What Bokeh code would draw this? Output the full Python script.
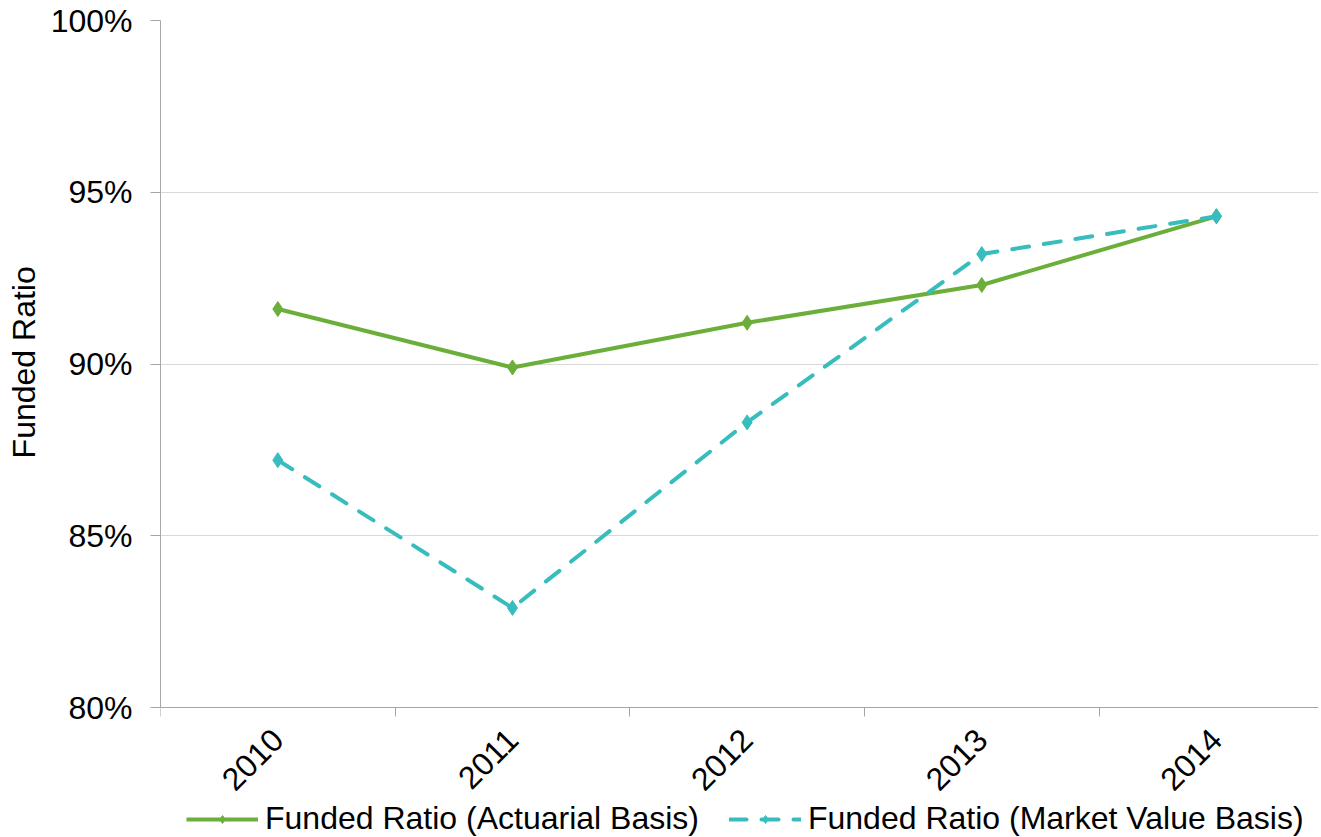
from bokeh.plotting import figure
from bokeh.models import Range1d, FixedTicker, PrintfTickFormatter, Legend, LegendItem
from bokeh.embed import file_html
from bokeh.resources import INLINE
import math

# Funded ratio by plan year (percent)
years = [2010, 2011, 2012, 2013, 2014]
actuarial = [91.6, 89.9, 91.2, 92.3, 94.3]
market_value = [87.2, 82.9, 88.3, 93.2, 94.3]
y_ticks = [80, 85, 90, 95, 100]
y_title = "Funded Ratio"

GREEN = "#6BAE3A"
TEAL = "#37BDBD"
AXIS_GRAY = "#A6A6A6"
FONT = "Liberation Sans"
FS = "32px"

# The frame runs to the bottom of the canvas; the value axis spans 80-100 %
# over its upper 687 px, leaving room below for year labels and legend.
W, H, TOP, LEFT, RIGHT = 1321, 837, 20, 160, 3
AXIS_PX = 687
y_lo, y_hi = y_ticks[0], y_ticks[-1]
y_start = y_lo - (y_hi - y_lo) * (H - TOP - AXIS_PX) / AXIS_PX

p = figure(
    width=W, height=H,
    output_backend="svg", toolbar_location=None,
    x_range=Range1d(2009.5, 2014.435), y_range=Range1d(y_start, y_hi),
    min_border_left=LEFT, min_border_top=TOP, min_border_right=RIGHT, min_border_bottom=0,
)
p.outline_line_color = None
p.background_fill_color = "white"
p.border_fill_color = "white"

# Category axis pinned at 80 %; year labels centred, ticks on category edges
p.xaxis.fixed_location = y_lo
p.xaxis.ticker = FixedTicker(ticks=years, minor_ticks=[y - 0.5 for y in years])
p.xaxis.major_tick_out = 0
p.xaxis.major_tick_in = 0
p.xaxis.minor_tick_out = 9
p.xaxis.minor_tick_in = 0
p.xaxis.minor_tick_line_color = AXIS_GRAY
p.xaxis.axis_line_color = AXIS_GRAY
p.xaxis.major_label_orientation = math.pi / 4
p.xaxis.major_label_text_font = FONT
p.xaxis.major_label_text_font_size = FS
p.xaxis.major_label_text_color = "black"
p.xaxis.major_label_standoff = 18

p.yaxis.bounds = (y_lo, y_hi)
p.yaxis.ticker = FixedTicker(ticks=y_ticks)
p.yaxis.formatter = PrintfTickFormatter(format="%d%%")
p.yaxis.major_tick_out = 10
p.yaxis.major_tick_in = 0
p.yaxis.minor_tick_out = 0
p.yaxis.minor_tick_in = 0
p.yaxis.major_tick_line_color = AXIS_GRAY
p.yaxis.axis_line_color = AXIS_GRAY
p.yaxis.major_label_text_font = FONT
p.yaxis.major_label_text_font_size = FS
p.yaxis.major_label_text_color = "black"
p.yaxis.major_label_standoff = 18

# The title is centred on the whole left panel; leading no-break spaces lift
# the visible words to the middle of the 80-100 % span.
p.yaxis.axis_label = "\u00a0" * 15 + y_title
p.yaxis.axis_label_text_font = FONT
p.yaxis.axis_label_text_font_size = FS
p.yaxis.axis_label_text_font_style = "normal"
p.yaxis.axis_label_text_color = "black"
p.yaxis.axis_label_standoff = 6

p.xgrid.grid_line_color = None
p.ygrid.grid_line_color = "#D9D9D9"
p.ygrid.grid_line_width = 1

l1 = p.line(years, actuarial, line_color=GREEN, line_width=4)
m1 = p.scatter(years, actuarial, marker="diamond", size=15, fill_color=GREEN, line_color=GREEN)
l2 = p.line(years, market_value, line_color=TEAL, line_width=4, line_dash="17 15", line_cap="round")
m2 = p.scatter(years, market_value, marker="diamond", size=15, fill_color=TEAL, line_color=TEAL)

# Horizontal legend along the bottom edge
legend = Legend(
    items=[
        LegendItem(label="Funded Ratio (Actuarial Basis)", renderers=[l1, m1]),
        LegendItem(label="Funded Ratio (Market Value Basis)", renderers=[l2, m2]),
    ],
    orientation="horizontal", location=(26, 0),
    glyph_width=72, glyph_height=20, label_text_font=FONT, label_text_font_size=FS,
    label_text_color="black", spacing=30, padding=0, margin=0,
    border_line_color=None, background_fill_alpha=0, label_standoff=7,
)
p.add_layout(legend)

open("out.html", "w").write(file_html(p, INLINE))
